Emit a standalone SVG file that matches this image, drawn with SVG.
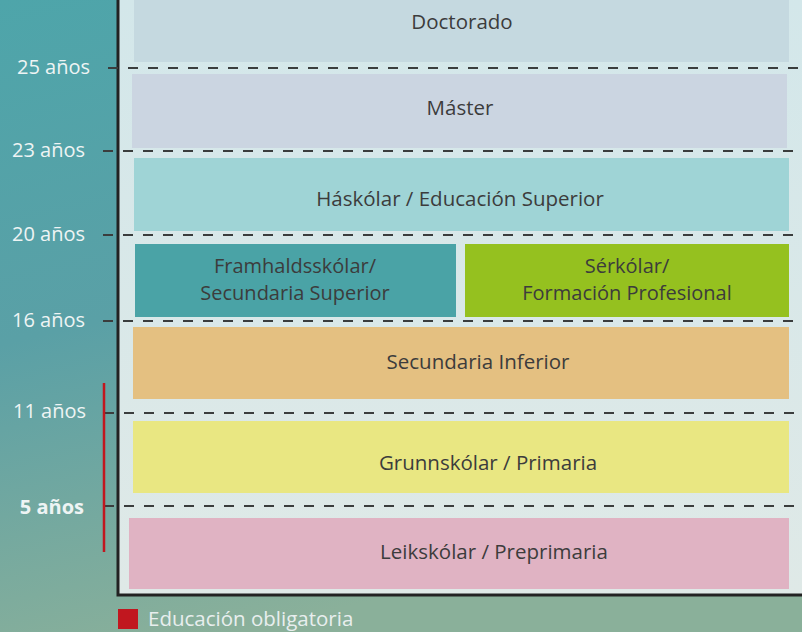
<svg xmlns="http://www.w3.org/2000/svg" width="802" height="632" viewBox="0 0 802 632">
<defs>
<linearGradient id="bg" x1="0" y1="0" x2="0.3" y2="1">
<stop offset="0" stop-color="#4ea5aa"/>
<stop offset="0.5" stop-color="#5aa0a6"/>
<stop offset="1" stop-color="#8ab09a"/>
</linearGradient>
<linearGradient id="panel" x1="0" y1="0" x2="0" y2="1">
<stop offset="0" stop-color="#d3e7ea"/>
<stop offset="1" stop-color="#dfe9e7"/>
</linearGradient>
<style>
.lbl{font-family:"Open Sans",Lato,sans-serif;font-size:20.5px;fill:#3c3c3c;text-anchor:middle}
.lbl2{font-family:"Open Sans",Lato,sans-serif;font-size:20px;fill:#3c3c3c;text-anchor:middle}
.age{font-family:"Open Sans",Lato,sans-serif;font-size:20px;fill:#eef4f4;text-anchor:end}
.dash{stroke:#3a3d3d;stroke-width:2;stroke-dasharray:10 10;fill:none}
</style>
</defs>
<rect x="0" y="0" width="802" height="632" fill="url(#bg)"/>
<rect x="118" y="-2" width="690" height="597" fill="url(#panel)" stroke="#222" stroke-width="3"/>

<g id="doctorado"><rect x="134" y="0" width="655" height="62" fill="#c5d9e0"/><text class="lbl" x="462" y="29">Doctorado</text></g>
<g id="master"><rect x="132" y="74" width="655" height="74" fill="#cbd5e1"/><text class="lbl" x="460" y="115">Máster</text></g>
<g id="haskolar"><rect x="134" y="158" width="655" height="73" fill="#9fd4d6"/><text class="lbl" x="460" y="206">Háskólar / Educación Superior</text></g>
<g id="framhald"><rect x="135" y="244" width="321" height="73" fill="#4aa3a6"/><text class="lbl2" x="295" y="273">Framhaldsskólar/</text><text class="lbl2" x="295" y="300">Secundaria Superior</text></g>
<g id="serkolar"><rect x="465" y="244" width="324" height="73" fill="#95c11f"/><text class="lbl2" x="627" y="273">Sérkólar/</text><text class="lbl2" x="627" y="300">Formación Profesional</text></g>
<g id="secinf"><rect x="133" y="327" width="656" height="72" fill="#e4c081"/><text class="lbl" x="478" y="369">Secundaria Inferior</text></g>
<g id="grunn"><rect x="133" y="421" width="656" height="72" fill="#e9e782"/><text class="lbl" x="488" y="470">Grunnskólar / Primaria</text></g>
<g id="leik"><rect x="129" y="518" width="660" height="71" fill="#e0b3c3"/><text class="lbl" x="494" y="559">Leikskólar / Preprimaria</text></g>

<g id="connectors">
<line class="dash" x1="108" y1="68" x2="802" y2="68"/>
<line class="dash" x1="103" y1="151" x2="802" y2="151"/>
<line class="dash" x1="103" y1="235" x2="802" y2="235"/>
<line class="dash" x1="103" y1="321" x2="802" y2="321"/>
<line class="dash" x1="104" y1="413" x2="802" y2="413"/>
<line class="dash" x1="104" y1="506" x2="802" y2="506"/>
<line x1="104" y1="383" x2="104" y2="552" stroke="#c1171f" stroke-width="2.5"/>
</g>

<g id="ages">
<text class="age" x="90" y="74">25 años</text>
<text class="age" x="85" y="157">23 años</text>
<text class="age" x="85" y="241">20 años</text>
<text class="age" x="85" y="327">16 años</text>
<text class="age" x="86" y="418">11 años</text>
<text class="age" x="84" y="514" font-weight="bold">5 años</text>
</g>

<g id="legend">
<rect x="118" y="609" width="20" height="20" fill="#c1171f"/>
<text x="148" y="626" font-family="'Open Sans',Lato,sans-serif" font-size="20.5" fill="#e8eeee">Educación obligatoria</text>
</g>
</svg>
